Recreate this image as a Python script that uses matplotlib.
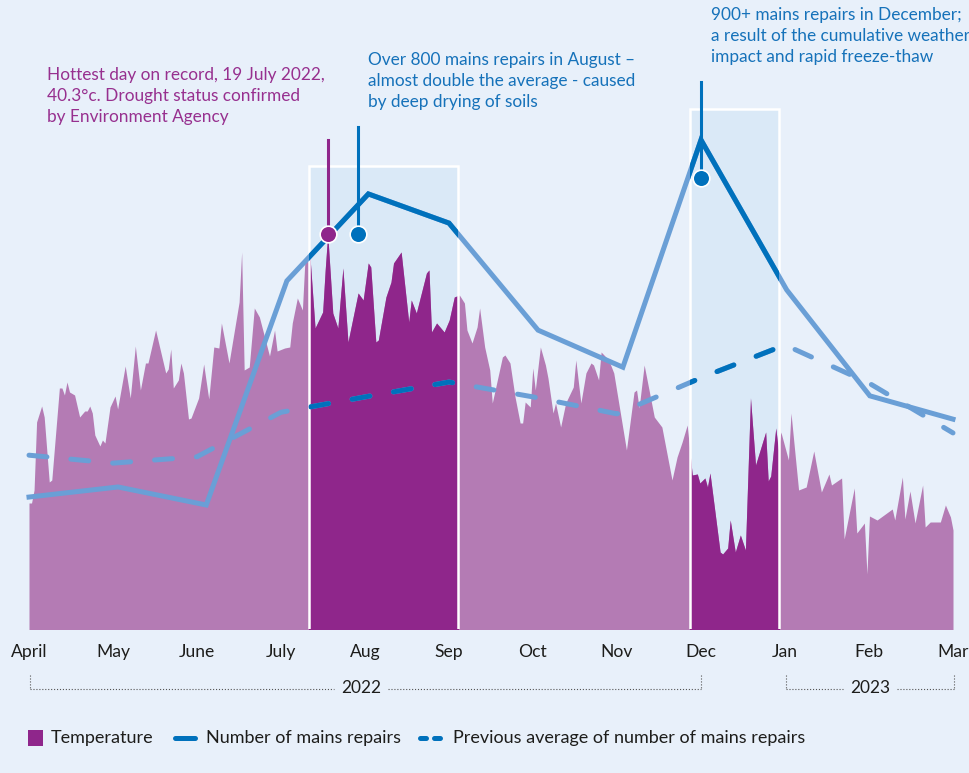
import matplotlib.pyplot as plt
import matplotlib.transforms as mtransforms
from matplotlib.patches import Rectangle
from matplotlib.lines import Line2D

plt.rcParams['font.family'] = ['Lato', 'DejaVu Sans']

# months along the x axis (April 2022 .. March 2023)
months = ['April', 'May', 'June', 'July', 'Aug', 'Sep', 'Oct', 'Nov', 'Dec', 'Jan', 'Feb', 'Mar']

# daily temperature (°C), day counted from 1 April 2022
temp_day = [0, 1, 2, 3, 5, 6, 8, 9, 12, 13,
            14, 15, 16, 18, 20, 22, 23, 24, 25, 26,
            28, 29, 30, 32, 34, 35, 38, 40, 42, 44,
            46, 47, 50, 54, 55, 56, 57, 59, 60, 61,
            63, 64, 67, 69, 71, 73, 75, 76, 79, 83,
            84, 85, 87, 89, 91, 95, 97, 98, 101, 103,
            104, 106, 108, 109, 111, 113, 116, 117, 118, 120,
            122, 124, 126, 130, 132, 134, 135, 137, 138, 141,
            143, 144, 147, 150, 151, 153, 157, 158, 159, 161,
            164, 166, 168, 170, 172, 173, 175, 177, 178, 180,
            182, 183, 187, 188, 190, 192, 194, 195, 196, 198,
            199, 200, 202, 204, 205, 207, 208, 210, 212, 215,
            216, 218, 220, 222, 223, 225, 226, 229, 231, 236,
            239, 240, 241, 243, 247, 250, 254, 256, 258, 260,
            262, 264, 265, 267, 268, 269, 273, 274, 276, 277,
            279, 281, 283, 285, 287, 291, 292, 293, 295, 296,
            297, 300, 301, 304, 307, 310, 313, 316, 317, 321,
            322, 326, 327, 330, 331, 332, 335, 341, 342, 345,
            346, 348, 350, 353, 354, 356, 360, 362, 364, 365]
temp_val = [13.4, 13.4, 14.7, 21.5, 23.1, 22.0, 15.5, 15.7, 24.9, 24.9,
            24.2, 25.5, 24.5, 24.2, 22.0, 22.6, 22.6, 23.1, 22.4, 20.2,
            19.1, 19.7, 19.4, 23.0, 24.1, 22.8, 27.1, 23.9, 29.1, 24.7,
            27.4, 27.4, 30.7, 26.4, 26.8, 28.8, 24.9, 25.7, 27.4, 26.4,
            21.8, 21.9, 23.9, 27.3, 23.8, 29.0, 28.9, 31.4, 27.4, 33.5,
            38.5, 26.7, 27.0, 32.9, 32.0, 28.1, 30.7, 28.6, 28.9, 29.0,
            31.4, 33.9, 32.7, 37.7, 38.0, 30.9, 32.5, 36.7, 40.3, 32.4,
            30.9, 36.9, 29.5, 34.4, 33.7, 37.4, 37.0, 29.5, 29.7, 34.0,
            35.5, 37.4, 38.5, 31.5, 33.7, 32.4, 36.4, 36.7, 30.5, 31.4,
            30.5, 31.7, 34.0, 34.2, 33.4, 30.7, 29.4, 31.0, 32.9, 29.0,
            26.7, 23.4, 28.0, 28.2, 27.4, 24.0, 21.4, 21.4, 23.5, 23.0,
            26.9, 24.7, 29.0, 27.2, 25.9, 22.4, 23.4, 21.0, 23.4, 25.0,
            27.7, 23.4, 26.4, 27.4, 27.2, 25.7, 28.5, 27.7, 26.4, 18.7,
            24.5, 24.7, 22.9, 27.2, 22.0, 21.0, 15.7, 18.0, 19.5, 21.2,
            16.2, 16.3, 15.4, 15.9, 15.0, 16.4, 8.5, 8.3, 8.9, 11.7,
            8.5, 10.2, 8.7, 23.9, 17.2, 20.5, 15.6, 16.1, 20.9, 18.7,
            20.5, 17.7, 22.4, 14.7, 15.0, 18.6, 14.5, 16.3, 15.2, 15.9,
            9.8, 14.9, 10.4, 11.4, 6.3, 12.1, 11.7, 12.8, 11.7, 16.0,
            11.8, 14.6, 11.4, 15.2, 11.0, 11.5, 11.5, 13.2, 12.0, 10.7]

# monthly number of mains repairs
repair_x = [0, 1.06, 2.11, 3.07, 4.04, 5.0, 6.06, 7.07, 8.0, 9.02, 10.01, 11.0]
repairs = [249, 268, 234, 657, 821, 766, 564, 494, 923, 640, 440, 396]
avg_repairs = [328, 313, 325, 409, 438, 466, 438, 406, 474, 536, 464, 370]

hottest_day = 118
hottest_temp = 40.3

# highlighted periods (x in months) and their heights (axes fraction)
spans = [(3.333, 5.107), (7.869, 8.929)]
span_tops = [0.736, 0.827]

BG = '#e8f0fa'
PURPLE_L = '#b47bb4'
PURPLE_D = '#8f268b'
BLUE_L = '#6a9fd6'
BLUE_D = '#0071bc'
BOX = '#dae9f7'
INK = '#1d1d1b'

W, H = 970, 773
fig = plt.figure(figsize=(W / 100, H / 100), dpi=100, facecolor=BG)
ax = fig.add_axes([0, 144 / H, 1, 629 / H])
ax.set_facecolor('none')
ax2 = ax.twinx()
trans = mtransforms.blended_transform_factory(ax.transData, ax.transAxes)

def clip_rect(x0, x1):
    return Rectangle((x0, 0), x1 - x0, 1, transform=trans)

# highlight boxes
for (x0, x1), top in zip(spans, span_tops):
    ax.add_patch(Rectangle((x0, 0), x1 - x0, top, transform=trans,
                           facecolor=BOX, edgecolor='none', zorder=0))

# temperature area
tx = [d * 11 / 365 for d in temp_day]
ax.fill_between(tx, temp_val, 0, color=PURPLE_L, lw=0, zorder=1)
for x0, x1 in spans:
    poly = ax.fill_between(tx, temp_val, 0, color=PURPLE_D, lw=0, zorder=2)
    poly.set_clip_path(clip_rect(x0, x1))

# white box outlines
for (x0, x1), top in zip(spans, span_tops):
    ax2.plot([x0, x0, x1, x1], [0, top, top, 0], transform=trans, color='white',
             lw=1.8, zorder=1, solid_joinstyle='miter')

# repairs lines
avg_x = list(range(12))
ax2.plot(repair_x, repairs, color=BLUE_L, lw=3.6, zorder=3, solid_joinstyle='miter')
ax2.plot(avg_x, avg_repairs, color=BLUE_L, lw=3.6, zorder=3, dashes=(3.6, 4.8),
         dash_capstyle='round')
for x0, x1 in spans:
    l1, = ax2.plot(repair_x, repairs, color=BLUE_D, lw=3.6, zorder=4, solid_joinstyle='miter')
    l1.set_clip_path(clip_rect(x0, x1))
    l2, = ax2.plot(avg_x, avg_repairs, color=BLUE_D, lw=3.6, zorder=4, dashes=(3.6, 4.8),
                   dash_capstyle='round')
    l2.set_clip_path(clip_rect(x0, x1))

# callout markers
hx = hottest_day * 11 / 365
ax2.plot([hx, hx], [hottest_temp, 49.7], transform=ax.transData, color=PURPLE_D, lw=2.2, zorder=5)
ax2.plot([hx], [hottest_temp], 'o', transform=ax.transData, ms=12, color=PURPLE_D,
         mec='white', mew=1.2, zorder=6)
for mx, my, top in [(3.917, 745, 947), (8.0, 851, 1032)]:
    ax2.plot([mx, mx], [my, top], color=BLUE_D, lw=2.2, zorder=5)
    ax2.plot([mx], [my], 'o', ms=12, color=BLUE_D, mec='white', mew=1.2, zorder=6)

ax.set_xlim(-29 / 84, 941 / 84)
ax.set_ylim(0.8, 63.7)
ax2.set_ylim(0, 1187)
for a in (ax, ax2):
    for s in a.spines.values():
        s.set_visible(False)
    a.set_yticks([])
ax.set_xticks(range(12))
ax.set_xticklabels(months)
ax.tick_params(axis='x', length=0, pad=11, labelsize=12.6, labelcolor=INK)

def fx(x):
    return x / W

def fy(y):
    return 1 - y / H

# annotations (one line per call, baselines 21 px apart)
notes = [
    (47, 80, '#97308f', ['Hottest day on record, 19 July 2022,',
                         '40.3°c. Drought status confirmed',
                         'by Environment Agency']),
    (368, 65, '#1672ba', ['Over 800 mains repairs in August –',
                          'almost double the average - caused',
                          'by deep drying of soils']),
    (711, 20, '#1672ba', ['900+ mains repairs in December;',
                          'a result of the cumulative weather',
                          'impact and rapid freeze-thaw']),
]
for x, y, c, lines in notes:
    for i, t in enumerate(lines):
        fig.text(fx(x), fy(y + 21 * i), t, color=c, fontsize=12.4, va='baseline', ha='left')

# year brackets
for x0, x1, xt, label in [(30, 701, 361, '2022'), (786, 954, 870, '2023')]:
    gap = 27
    for seg in ([x0, xt - gap], [xt + gap, x1]):
        fig.add_artist(Line2D([fx(seg[0]), fx(seg[1])], [fy(689), fy(689)],
                              color='#555555', lw=0.8, ls=':'))
    for xv in (x0, x1):
        fig.add_artist(Line2D([fx(xv), fx(xv)], [fy(675), fy(689)],
                              color='#555555', lw=0.8, ls=':'))
    fig.text(fx(xt), fy(688), label, ha='center', va='center', fontsize=12.4, color=INK)

# legend
LEG = 12.95
fig.add_artist(Rectangle((fx(28), fy(746)), 15 / W, 16 / H, transform=fig.transFigure,
                         facecolor=PURPLE_D, edgecolor='none'))
fig.text(fx(51), fy(738), 'Temperature', va='center', fontsize=LEG, color=INK)
fig.add_artist(Line2D([fx(175), fx(195)], [fy(738), fy(738)], color=BLUE_D, lw=3.6,
                      solid_capstyle='round'))
fig.text(fx(206), fy(738), 'Number of mains repairs', va='center', fontsize=LEG, color=INK)
for a, b in [(420, 426), (434, 440)]:
    fig.add_artist(Line2D([fx(a), fx(b)], [fy(738), fy(738)], color=BLUE_D, lw=3.6,
                          solid_capstyle='round'))
fig.text(fx(453), fy(738), 'Previous average of number of mains repairs', va='center',
         fontsize=LEG, color=INK)

fig.savefig('out.png', dpi=100, facecolor=BG)
